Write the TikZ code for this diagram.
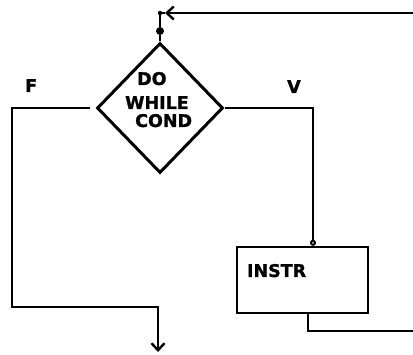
\documentclass[tikz,border=0pt]{standalone}
\usepackage{fontspec}
\setmainfont{DejaVu Sans}[BoldFeatures={FakeBold=1.2}]
\usepackage{tikz}
\usetikzlibrary{arrows.meta,positioning,shapes.geometric,calc}
\tikzset{
  decision/.style={draw,shape=diamond,line width=3pt,inner sep=0pt,
                   minimum width=126pt,minimum height=130pt},
  procbox/.style={draw,rectangle,line width=2.4pt,inner sep=0pt,
                  minimum width=131pt,minimum height=66pt},
  flow/.style={line width=2.4pt,line join=miter},
  lbl/.style={font=\fontsize{17.5}{20}\selectfont\bfseries,inner sep=0pt},
  jdot/.style={circle,fill,inner sep=0pt,minimum size=8pt},
  barb/.style={-{Straight Barb[length=7pt,width=13pt,line width=2.4pt]}},
}
\begin{document}
\begin{tikzpicture}[x=1pt,y=-1pt]
  \useasboundingbox (0,0) rectangle (413,355);

  % ---- Decision and instruction ----
  \node[decision] (cond) at (160,108) {};
  \node[lbl,anchor=base west] (dotxt)
    at ([shift={(-23pt,23pt)}]cond.center) {DO};
  \node[lbl,anchor=base west] (whiletxt)
    at ([shift={(-35pt,-1pt)}]cond.center) {WHILE};
  \node[lbl,anchor=base west] (condtxt)
    at ([shift={(-25pt,-19pt)}]cond.center) {COND};

  \node[procbox] (instr) at (302.5,280) {};
  \node[lbl,anchor=base west] (instrtxt)
    at ([shift={(11pt,3pt)}]instr.west) {INSTR};

  % ---- Branch labels ----
  \node[lbl,anchor=base west] (flbl) at (25,92) {F};
  \node[lbl,anchor=base west] (vlbl) at (287,93) {V};

  % ---- Junction above the test ----
  \coordinate (top) at (160,13);
  \node[jdot] (join) at (160,31) {};
  \coordinate (ahead) at (165,13);
  \coordinate (loopin) at (413,13);
  \fill (top) circle (2.2pt);

  % ---- Connectors ----
  \draw[flow,barb] (loopin) -- (ahead);
  \draw[flow] (ahead) -- (top) -- (join) -- (cond.north);

  \coordinate (vright) at (313,108);
  \draw[flow,-{Circle[open,length=6pt,line width=2pt]}]
    (cond.east) -- (vright) -- (vright |- instr.north);

  \coordinate (fbot) at (12,307);
  \coordinate (exit) at (158,352);
  \draw[flow,barb,shorten <=6pt] (cond.west) -| (fbot) -| (exit);

  \coordinate (loopout) at (413,331);
  \draw[flow] ([xshift=5.5pt]instr.south) |- (loopout);
\end{tikzpicture}
\end{document}
